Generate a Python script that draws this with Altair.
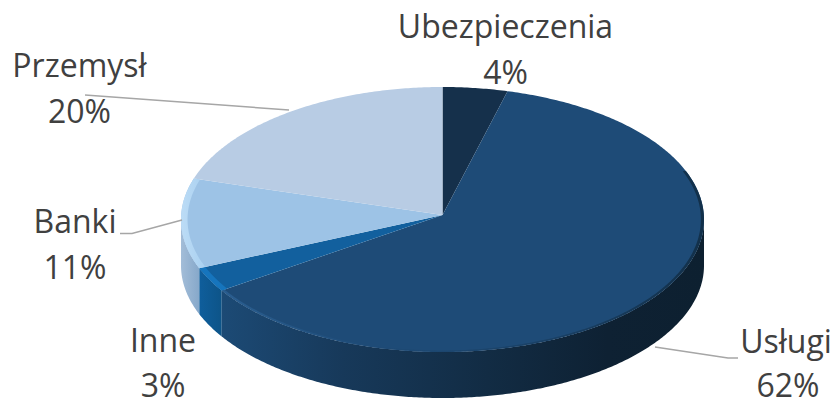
import numpy as np
import altair as alt

# Slices clockwise from 12 o'clock
categories = ["Ubezpieczenia", "Usługi", "Inne", "Banki", "Przemysł"]
shares = [4, 62, 3, 11, 20]
top_colors = ["#15304B", "#1E4B77", "#12609E", "#9DC3E6", "#B8CCE4"]

# Pie geometry in the page (pixels)
CX, CY, RX, RY = 442.5, 219.5, 261.5, 132.5
APEX_DY = 4.5
DEPTH = 46.0
SQ = RY / RX

edges = np.cumsum([0] + shares) / sum(shares) * 2 * np.pi


def rim(a, b, r=1.0, dy=0.0):
    n = max(2, int(abs(b - a) / 0.01))
    t = np.linspace(a, b, n)
    return [[float(r * np.sin(v)), float(r * np.cos(v) * SQ - dy)] for v in t]


def feature(ring, name):
    return {"type": "Feature", "properties": {"name": name},
            "geometry": {"type": "Polygon", "coordinates": [ring + [ring[0]]]}}


def shape(feats, **fill):
    return alt.Chart(alt.InlineData(values=feats, format=alt.DataFormat(type="json"))).mark_geoshape(
        strokeWidth=0, **fill).project(type="identity", scale=RX, translate=[CX - 8, CY - 8], reflectY=True)


def grad(stops):
    return alt.Gradient(gradient="linear", x1=0, y1=0, x2=1, y2=0,
                        stops=[alt.GradientStop(offset=o, color=c) for o, c in stops])


def wall(a, b):
    d = DEPTH / RX
    return rim(a, b) + rim(b, a, dy=d)


def band(a, b, inner=0.975):
    return rim(a, b) + rim(b, a, r=inner)


# Walls: only the part of each slice on the front half of the pie
wall_uslugi = shape([feature(wall(np.pi / 2, edges[2]), "Usługi")],
                    fill=grad([(0, "#1C4A75"), (0.25, "#17395A"), (0.55, "#122C44"), (0.8, "#0E2133"), (1, "#0D2030")]))
wall_inne = shape([feature(wall(edges[2], edges[3]), "Inne")],
                  fill=grad([(0, "#0F5E9C"), (1, "#0D5488")]))
wall_banki = shape([feature(wall(edges[3], 1.5 * np.pi), "Banki")],
                   fill=grad([(0, "#A3BDD8"), (1, "#86A8CA")]))

# Top faces
apex = [0.0, APEX_DY / RX]
top_feats = [feature([apex] + rim(edges[i], edges[i + 1]), categories[i]) for i in range(len(categories))]
tops = shape(top_feats).encode(
    color=alt.Color("properties.name:N", scale=alt.Scale(domain=categories, range=top_colors), legend=None))

# Bevel along the rim
bevel_right = shape([feature(band(0.38 * np.pi, edges[2], 0.988), "Usługi")],
                    fill=grad([(0, "#2A5E90"), (0.3, "#1E4B77"), (0.7, "#193F63"), (1, "#12304A")]))
bevel_inne = shape([feature(band(edges[2], edges[3], 0.975), "Inne")], fill="#1675BD")
bevel_banki = shape([feature(band(edges[3], edges[4], 0.975), "Banki")],
                    fill=grad([(0, "#BCDCF6"), (1, "#A9D0F0")]))

# Labels
lab_name = ["Ubezpieczenia", "4%", "Przemysł", "20%", "Banki", "11%", "Inne", "3%", "Usługi", "62%"]
lab_x = [505.5, 505.5, 79.5, 79.5, 75, 75, 163, 163, 786, 788]
lab_y = [38, 84, 77, 123, 233, 279, 352, 397, 353, 397]
labels = alt.Chart(alt.Data(values=[
    {"t": t, "px": x - 8, "py": y - 8} for t, x, y in zip(lab_name, lab_x, lab_y)
])).mark_text(font="Open Sans", fontSize=32, color="#404040", align="center", baseline="alphabetic").encode(
    x=alt.X("px:Q", scale=None), y=alt.Y("py:Q", scale=None), text="t:N")

# Leader lines
lead_id = [0, 0, 1, 1, 1, 2, 2, 2]
lead_x = [85, 289, 120, 132, 182, 655, 728, 738]
lead_y = [95, 110, 233.5, 233.5, 220, 347, 358, 358]
leaders = alt.Chart(alt.Data(values=[
    {"k": k, "o": i, "px": x - 8, "py": y - 8} for i, (k, x, y) in enumerate(zip(lead_id, lead_x, lead_y))
])).mark_line(color="#A6A6A6", strokeWidth=1.5).encode(
    x=alt.X("px:Q", scale=None), y=alt.Y("py:Q", scale=None), detail="k:N", order="o:Q")

chart = alt.layer(
    wall_banki, wall_inne, wall_uslugi, tops, bevel_right, bevel_inne, bevel_banki, leaders, labels
).properties(width=824, height=390, padding=0, autosize=alt.AutoSizeParams(type="none")).configure_view(stroke=None)

chart.save("out.html", embed_options={"renderer": "svg", "actions": False})
